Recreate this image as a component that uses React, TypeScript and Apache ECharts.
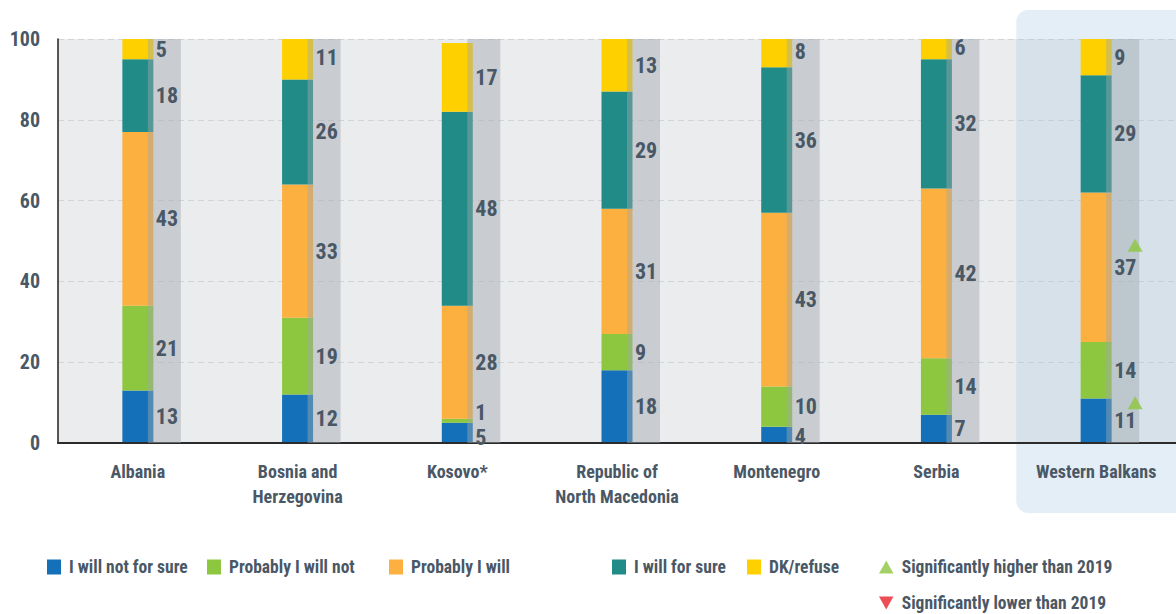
import React, { useEffect, useRef } from "react";
import * as echarts from "echarts";

const categories = [
  "Albania",
  "Bosnia and\nHerzegovina",
  "Kosovo*",
  "Republic of\nNorth Macedonia",
  "Montenegro",
  "Serbia",
  "Western Balkans",
];
const seriesNames = ["I will not for sure", "Probably I will not", "Probably I will", "I will for sure", "DK/refuse"];
const willNotForSure = [13, 12, 5, 18, 4, 7, 11];
const probablyWillNot = [21, 19, 1, 9, 10, 14, 14];
const probablyWill = [43, 33, 28, 31, 43, 42, 37];
const willForSure = [18, 26, 48, 29, 36, 32, 29];
const dkRefuse = [5, 11, 17, 13, 8, 6, 9];
const yTicks = [0, 20, 40, 60, 80, 100];
// significance markers: [category index, segment index]
const higherThan2019 = [
  [6, 2],
  [6, 0],
];
const lowerThan2019: number[][] = [];

const segments = [willNotForSure, probablyWillNot, probablyWill, willForSure, dkRefuse];
const colors = ["#1471b9", "#8dc63f", "#fbb040", "#218b87", "#ffd000"];
const TEXT = "#4a5866";
const FONT = "'Liberation Sans Narrow', 'Roboto Condensed', 'DejaVu Sans Condensed', 'Noto Sans', sans-serif";
const labelNudge: Record<string, number> = { "2-0": 5, "2-1": -8, "4-0": 2 };
const markerNudge = [-22, -18];

function segMid(ci: number, si: number) {
  let cum = 0;
  for (let k = 0; k < si; k++) cum += segments[k][ci];
  return cum + segments[si][ci] / 2;
}

export default function App() {
  const ref = useRef<HTMLDivElement>(null);
  useEffect(() => {
    if (!ref.current) return;
    const chart = echarts.init(ref.current, null, { renderer: "svg" });

    const barSeries: any[] = segments.map((arr, si) => ({
      type: "bar",
      name: seriesNames[si],
      stack: "total",
      barWidth: 31,
      z: 3,
      itemStyle: { color: colors[si] },
      emphasis: { disabled: true },
      data: arr,
    }));

    const highlight = {
      type: "custom",
      z: 1,
      silent: true,
      clip: false,
      data: [[6]],
      encode: { x: 0 },
      renderItem: (params: any, api: any) => {
        const i = api.value(0);
        const top = api.coord([i, 100]);
        const bottom = api.coord([i, 0]);
        const w = api.size([1, 0])[0];
        return {
          type: "rect",
          shape: { x: top[0] - w / 2, y: top[1] - 29, width: w + 20, height: bottom[1] - top[1] + 99, r: 12 },
          style: { fill: "rgba(165,198,225,0.3)" },
        };
      },
    };

    const strips = {
      type: "custom",
      z: 5,
      silent: true,
      data: categories.map((_, i) => [i]),
      encode: { x: 0 },
      renderItem: (params: any, api: any) => {
        const i = api.value(0);
        const top = api.coord([i, 100]);
        const bottom = api.coord([i, 0]);
        const children: any[] = [
          {
            type: "rect",
            shape: { x: top[0] + 10, y: top[1], width: 33, height: bottom[1] - top[1] },
            style: { fill: "rgba(159,169,174,0.45)" },
          },
        ];
        segments.forEach((arr, si) => {
          const p = api.coord([i, segMid(i, si)]);
          children.push({
            type: "text",
            x: top[0] + 18,
            y: p[1] + (labelNudge[`${i}-${si}`] || 0),
            z2: 10,
            style: {
              text: String(arr[i]),
              fill: TEXT,
              font: `bold 22px ${FONT}`,
              lineHeight: 18,
              verticalAlign: "middle",
              align: "left",
            },
          });
        });
        return { type: "group", children };
      },
    };

    const higher = {
      type: "scatter",
      name: "Significantly higher than 2019",
      z: 6,
      symbol: "triangle",
      symbolSize: [15, 13],
      itemStyle: { color: "#8dc63f" },
      data: higherThan2019.map(([ci, si], k) => ({
        value: [ci, segMid(ci, si)],
        symbolOffset: [39, markerNudge[k]],
      })),
    };
    const lower = {
      type: "scatter",
      name: "Significantly lower than 2019",
      z: 6,
      symbol: "path://M0,0L10,0L5,9Z",
      symbolSize: [15, 13],
      itemStyle: { color: "#e8202a" },
      data: lowerThan2019.map(([ci, si]) => ({ value: [ci, segMid(ci, si)], symbolOffset: [39, -20] })),
    };

    const legendText = { color: TEXT, fontSize: 17.5, fontWeight: "bold", fontFamily: FONT, padding: [0, 0, 0, 3] };
    const legendPos = [
      [47, 558],
      [207, 558],
      [389, 558],
      [612, 558],
      [747, 558],
    ];
    const legends: any[] = seriesNames.map((n, si) => ({
      data: [{ name: n, icon: "rect" }],
      left: legendPos[si][0],
      top: legendPos[si][1],
      itemWidth: 14,
      itemHeight: 15,
      padding: 0,
      selectedMode: false,
      textStyle: legendText,
    }));
    legends.push({
      data: [{ name: "Significantly higher than 2019", icon: "path://M5,0L10,9L0,9Z" }],
      left: 879,
      top: 558,
      itemWidth: 15,
      itemHeight: 13,
      padding: 0,
      selectedMode: false,
      textStyle: legendText,
    });
    legends.push({
      data: [{ name: "Significantly lower than 2019", icon: "path://M0,0L10,0L5,9Z" }],
      left: 879,
      top: 594,
      itemWidth: 15,
      itemHeight: 13,
      padding: 0,
      selectedMode: false,
      textStyle: legendText,
    });

    chart.setOption({
      animation: false,
      backgroundColor: "#ffffff",
      textStyle: { fontFamily: FONT },
      grid: {
        left: 58,
        top: 39,
        width: 1122,
        height: 404,
        show: true,
        backgroundColor: "#ebecee",
        borderWidth: 0,
      },
      legend: legends,
      xAxis: {
        type: "category",
        data: categories,
        z: 4,
        axisLine: { lineStyle: { color: "#2b2b2b", width: 2 } },
        axisTick: { inside: true, length: 10, lineStyle: { color: "#3a3a3a", width: 1.5 } },
        axisLabel: {
          color: TEXT,
          fontSize: 18,
          fontWeight: "bold",
          fontFamily: FONT,
          lineHeight: 25,
          margin: 16,
          interval: 0,
        },
      },
      yAxis: {
        type: "value",
        min: 0,
        max: 100,
        interval: 20,
        axisLine: { show: true, lineStyle: { color: "#231f20", width: 1.5 } },
        axisTick: { show: false },
        axisLabel: {
          color: TEXT,
          fontSize: 20,
          fontWeight: "bold",
          fontFamily: FONT,
          margin: 18,
          customValues: yTicks,
        },
        splitLine: { lineStyle: { color: "#d2d5d8", type: [6, 4], width: 1 } },
      },
      series: [highlight, ...barSeries, strips, higher, lower],
    });
    return () => chart.dispose();
  }, []);
  return (
    <div
      ref={ref}
      style={{ position: "fixed", left: 0, top: 0, width: 1176, height: 614 }}
    />
  );
}
